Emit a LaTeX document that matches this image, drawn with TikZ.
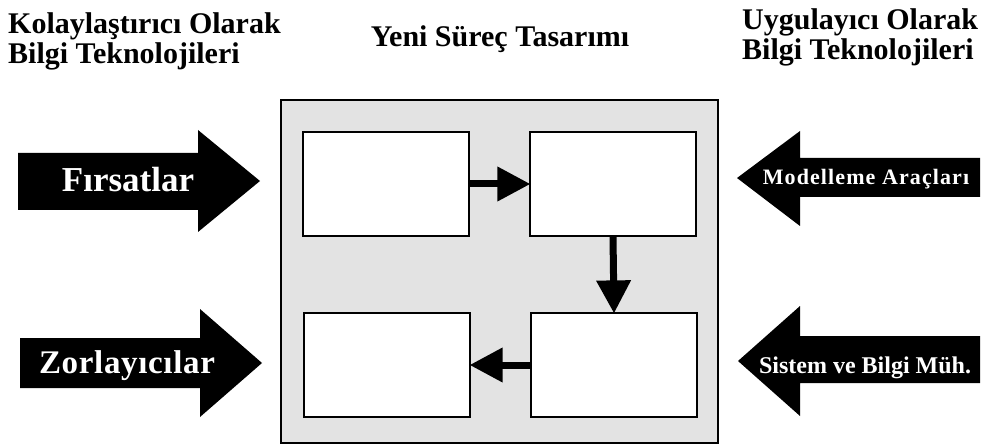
\documentclass[tikz,border=0pt]{standalone}
\usepackage{fontspec}
\setmainfont{Liberation Serif}
\usepackage{tikz}
\usetikzlibrary{arrows.meta}
\tikzset{
  kutu/.style={draw,line width=1.2pt,fill=white,minimum width=166pt,minimum height=104pt,inner sep=0pt},
  akis/.style={line width=7pt,-{Triangle[length=33pt,width=33pt]},shorten >=-1pt},
  baslik/.style={font=\bfseries\fontsize{30}{30}\selectfont,align=left,inner sep=0pt},
  oktext/.style={text=white,font=\bfseries,inner sep=0pt}
}

\begin{document}
\begin{tikzpicture}[x=1pt,y=-1pt]
  \useasboundingbox (0,0) rectangle (984,446);
  % basliklar
  \node[baslik,anchor=north west] (kolay) at (8,12) {Kolaylaştırıcı Olarak\\Bilgi Teknolojileri};
  \node[baslik,anchor=base] (yeni) at (500,47) {Yeni Süreç Tasarımı};
  \node[baslik,anchor=north west] (uygu) at (742,8) {Uygulayıcı Olarak\\Bilgi Teknolojileri};
  % surec cercevesi
  \draw[line width=1.5pt,fill=black!11] (281,100) rectangle (718,443);
  \node[kutu] (k1) at (386,184) {};
  \node[kutu] (k2) at (613,184) {};
  \node[kutu] (k3) at (387,365) {};
  \node[kutu] (k4) at (614,365) {};
  \draw[akis] (k1.east) -- (k2.west);
  \draw[akis] (k2.south) -- (k4.north);
  \draw[akis] (k4.west) -- (k3.east);
  % sol oklar
  \fill (18,153) -- (198,153) -- (198,130) -- (260,181) -- (198,232) -- (198,210) -- (18,210) -- cycle;
  \node[oktext,anchor=base,font=\bfseries\fontsize{35}{35}\selectfont] (firsat) at (128,192) {Fırsatlar};
  \fill (20,338) -- (200,338) -- (200,309) -- (262,363) -- (200,417) -- (200,388) -- (20,388) -- cycle;
  \node[oktext,anchor=base,font=\bfseries\fontsize{33}{33}\selectfont\addfontfeature{LetterSpace=2}] (zorla) at (127,373) {Zorlayıcılar};
  % sag oklar
  \fill (980,158) -- (800,158) -- (800,131) -- (737,178) -- (800,226) -- (800,197) -- (980,197) -- cycle;
  \node[oktext,anchor=base,font=\bfseries\fontsize{22}{22}\selectfont\addfontfeature{LetterSpace=5}] (model) at (866,185) {Modelleme Araçları};
  \fill (980,336) -- (800,336) -- (800,306) -- (738,361) -- (800,416) -- (800,383) -- (980,383) -- cycle;
  \node[oktext,anchor=base,font=\bfseries\fontsize{24}{24}\selectfont] (sistem) at (865,373) {Sistem ve Bilgi Müh.};
\end{tikzpicture}
\end{document}
